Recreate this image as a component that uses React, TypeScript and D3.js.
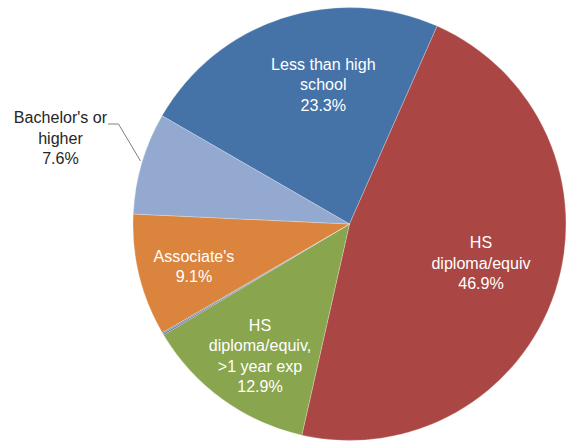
import React from "react";
import * as d3 from "d3";

const categories = [
  "Less than high school",
  "HS diploma/equiv",
  "HS diploma/equiv, >1 year exp",
  "Other A",
  "Other B",
  "Associate's",
  "Bachelor's or higher",
];
const values = [23.3, 46.9, 12.9, 0.1, 0.1, 9.1, 7.6];
const colors = ["#4572A7", "#AA4643", "#89A54E", "#71588F", "#4198AF", "#DB843D", "#93A9CF"];
const labelLines: string[][] = [
  ["Less than high", "school", "23.3%"],
  ["HS", "diploma/equiv", "46.9%"],
  ["HS", "diploma/equiv,", ">1 year exp", "12.9%"],
  [],
  [],
  ["Associate's", "9.1%"],
  ["Bachelor's or", "higher", "7.6%"],
];

const W = 571;
const H = 443;
const cx = 349.5;
const cy = 224;
const R = 216.5;
const startDeg = -60;
const FONT = "'Liberation Sans Narrow', 'Arial Narrow', 'Liberation Sans', Arial, sans-serif";

export default function App() {
  const pie = d3
    .pie<number>()
    .value((d) => d)
    .sort(null)
    .startAngle((startDeg * Math.PI) / 180)
    .endAngle(((startDeg + 360) * Math.PI) / 180);
  const arcs = pie(values);
  const arcGen = d3.arc<d3.PieArcDatum<number>>().innerRadius(0).outerRadius(R);

  const labelPos: Array<[number, number] | null> = [
    [323.3, 70],
    [481, 248.3],
    [260, 331],
    null,
    null,
    [194, 261.7],
    [60.5, 123.3],
  ];
  const lh = 20.4;

  return (
    <div style={{ position: "absolute", left: 0, top: 0 }}>
      <svg width={W} height={H} style={{ display: "block" }}>
        <rect width={W} height={H} fill="#ffffff" />
        <g transform={`translate(${cx},${cy})`}>
          {arcs.map((a, i) => (
            <path
              key={i}
              d={arcGen(a) || ""}
              fill={colors[i]}
              stroke="#ffffff"
              strokeOpacity={0.5}
              strokeWidth={0.5}
            />
          ))}
        </g>
        <polyline
          points={`108,124 118.5,124 140.5,161`}
          fill="none"
          stroke="#808080"
          strokeWidth={1}
        />
        {labelLines.map((lines, i) => {
          const p = labelPos[i];
          if (!p || lines.length === 0) return null;
          const fill = i === 6 ? "#262626" : "#ffffff";
          return (
            <g key={i}>
              {lines.map((t, j) => (
                <text
                  key={j}
                  transform={`translate(${p[0]},${p[1] + j * lh}) scale(0.93,1)`}
                  textAnchor="middle"
                  fontFamily={FONT}
                  fontSize={17.3}
                  fill={fill}
                >
                  {t}
                </text>
              ))}
            </g>
          );
        })}
      </svg>
    </div>
  );
}
